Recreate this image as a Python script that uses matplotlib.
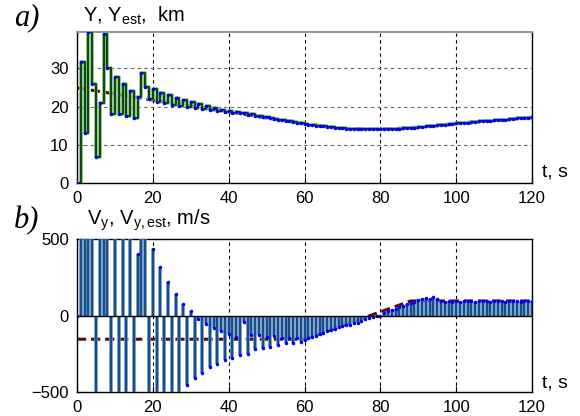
import numpy as np
import matplotlib.pyplot as plt

plt.rcParams['font.family'] = ['Liberation Sans', 'DejaVu Sans']
plt.rcParams['mathtext.fontset'] = 'custom'
plt.rcParams['mathtext.rm'] = 'Liberation Sans'
plt.rcParams['mathtext.it'] = 'Liberation Sans'

# sample times, s
t = np.arange(0, 121)

# estimated coordinate Y, km (one value per second)
y_est = [
    0.0, 31.7, 13.2, 39.6, 26.0, 6.9, 21.0, 38.9, 30.0, 18.0,
    27.8, 18.0, 25.8, 17.4, 24.0, 16.9, 22.4, 28.7, 25.2, 22.0,
    24.6, 21.1, 23.6, 20.8, 23.0, 20.5, 22.3, 20.2, 21.6, 19.9,
    21.2, 19.6, 20.7, 19.3, 20.1, 19.0, 19.6, 18.8, 19.2, 18.5,
    18.9, 18.4, 18.5, 18.2, 18.3, 17.9, 18.0, 17.6, 17.6, 17.3,
    17.2, 16.9, 16.8, 16.6, 16.5, 16.3, 16.1, 16.0, 15.8, 15.7,
    15.5, 15.3, 15.2, 15.0, 14.9, 14.8, 14.7, 14.6, 14.5, 14.4,
    14.3, 14.2, 14.2, 14.1, 14.1, 14.0, 14.0, 14.0, 14.0, 14.0,
    14.0, 14.0, 14.0, 14.1, 14.1, 14.2, 14.3, 14.3, 14.4, 14.5,
    14.6, 14.7, 14.8, 14.9, 15.0, 15.1, 15.2, 15.3, 15.4, 15.5,
    15.6, 15.7, 15.8, 15.8, 15.9, 16.0, 16.1, 16.2, 16.2, 16.3,
    16.4, 16.5, 16.6, 16.6, 16.7, 16.8, 16.9, 17.0, 17.0, 17.1,
    17.2,
]

# true coordinate Y, km
t_y_true = [0, 10, 20, 30, 40, 50, 60, 70, 80, 90, 100, 110, 120]
y_true = [24.9, 23.3, 21.7, 20.2, 18.7, 17.0, 15.5, 14.3, 14.0, 14.6, 15.6, 16.4, 17.2]

# estimated velocity Vy, m/s
vy_est = [
    0, 900, 1000, 800, 900, -900, 800, 900, 700, -800,
    750, -800, 700, -750, 650, -700, 404, 600, 550, -650,
    437, -700, 318, -650, 220, -600, 141, -560, 78, -452,
    28, -407, -22, -374, -54, -337, -83, -315, -102, -291,
    -120, -276, -139, -261, -43, -250, -130, -222, -125, -210,
    -140, -204, -135, -195, -150, -183, -145, -183, -150, -175,
    -160, -150, -139, -135, -124, -112, -102, -95, -87, -78,
    -70, -64, -59, -52, -48, -37, -26, -18, -9, -4,
    0, 17, 28, 36, 43, 57, 65, 75, 83, 89,
    104, 109, 115, 109, 122, 109, 98, 91, 98, 91,
    96, 91, 97, 92, 96, 91, 97, 92, 96, 91,
    97, 92, 96, 91, 97, 92, 96, 91, 97, 93,
    98,
]

# true velocity Vy, m/s
t_vy_true = [0, 60, 88, 120]
vy_true = [-155, -155, 95, 95]

fig = plt.figure(figsize=(5.8, 4.16), dpi=100)
ax1 = fig.add_axes([77/580, 233/416, 455/580, 151/416])
ax2 = fig.add_axes([77/580, 24/416, 455/580, 153/416])

# --- a) coordinate
ax1.plot(t_y_true, y_true, color='#5a0b0b', lw=2.2, dashes=(3, 1.6), zorder=2)
ax1.step(t, y_est, where='post', color='#8cbf8c', lw=2.6, zorder=3)
ax1.step(t, y_est, where='post', color='#0c4a0c', lw=1.5, zorder=4)
ax1.plot(t, y_est, '.', color='blue', ms=3, zorder=5)
ax1.set_xlim(0, 120)
ax1.set_ylim(0, 39.5)
ax1.set_xticks(range(0, 121, 20))
ax1.set_yticks([0, 10, 20, 30])
ax1.xaxis.grid(True, color='black', ls=(0, (3, 3)), lw=0.8)
ax1.yaxis.grid(True, color='#666666', ls=(0, (3, 3)), lw=0.8)
ax1.spines['top'].set_color('#999999')
ax1.spines['top'].set_linewidth(1.5)

# --- b) velocity
ax2.plot(t_vy_true, vy_true, color='#5a0b0b', lw=2.2, dashes=(3, 1.6), zorder=2)
ax2.vlines(t, 0, vy_est, color='#7ea6d0', lw=2.6, zorder=3)
ax2.vlines(t, 0, vy_est, color='#174d88', lw=1.7, zorder=4)
ax2.plot(t, vy_est, '.', color='blue', ms=3, zorder=5)
ax2.axhline(0, color='black', lw=1.0, zorder=6)
ax2.set_xlim(0, 120)
ax2.set_ylim(-500, 500)
ax2.set_xticks(range(0, 121, 20))
ax2.set_yticks([-500, 0, 500])
ax2.xaxis.grid(True, color='black', ls=(0, (3, 3)), lw=0.8)

for ax in (ax1, ax2):
    ax.set_axisbelow(True)
    ax.tick_params(direction='in', length=4, labelsize=12, pad=6, colors='black')
    for s in ('left', 'right', 'bottom'):
        ax.spines[s].set_linewidth(1.0)
ax2.spines['top'].set_linewidth(1.0)

# panel captions and axis names
fig.text(14/580, 1 - 25/416, 'a)', fontsize=22, family='Liberation Serif', style='italic')
fig.text(14/580, 1 - 228/416, 'b)', fontsize=22, family='Liberation Serif', style='italic')
fig.text(83/580, 1 - 22/416, r'Y, Y$_{\mathrm{est}}$,  km', fontsize=14.5)
fig.text(87/580, 1 - 225/416, r'V$_{\mathrm{y}}$, V$_{\mathrm{y,est}}$, m/s', fontsize=14.5)
fig.text(542/580, 1 - 177/416, 't, s', fontsize=14)
fig.text(542/580, 1 - 387/416, 't, s', fontsize=14)

fig.savefig('out.png', dpi=100)
